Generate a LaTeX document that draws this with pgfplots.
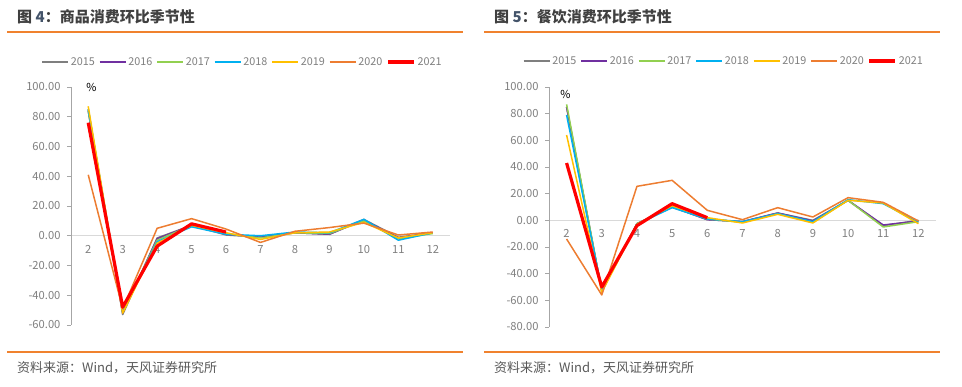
\documentclass[border=0pt]{standalone}
\usepackage{fontspec}
\setmainfont{Noto Sans CJK SC}
\usepackage{pgfplots}
\pgfplotsset{compat=1.18}
\definecolor{c15}{HTML}{7F7F7F}
\definecolor{c16}{HTML}{7030A0}
\definecolor{c17}{HTML}{92D050}
\definecolor{c18}{HTML}{00B0F0}
\definecolor{c19}{HTML}{FFC000}
\definecolor{c20}{HTML}{ED7D31}
\definecolor{c21}{HTML}{FF0000}
\definecolor{rulecol}{HTML}{F0822E}
\definecolor{titlegray}{HTML}{404040}
\definecolor{titleblue}{HTML}{44546A}
\definecolor{tickgray}{HTML}{7F7F7F}
\definecolor{axgray}{HTML}{A6A6A6}
\definecolor{zerogray}{HTML}{D9D9D9}
\definecolor{srcgray}{HTML}{595959}
\pgfplotsset{
  tfchart/.style={
    scale only axis, xmin=1.5, xmax=12.5,
    axis x line=middle, axis y line=left, axis line style={-},
    x axis line style={draw=zerogray, line width=0.9pt},
    y axis line style={draw=axgray, line width=0.8pt},
    hide obscured x ticks=false, hide obscured y ticks=false,
    xtick={2,...,12}, x tick style={draw=none},
    ytick distance=20, y tick style={draw=axgray, line width=0.8pt},
    tick align=outside, major tick length=4pt,
    yticklabel style={xshift=-3pt, /pgf/number format/.cd, fixed, fixed zerofill, precision=2, assume math mode=true},
    xticklabel style={yshift=-2pt, /pgf/number format/assume math mode=true},
    ticklabel style={font=\fontsize{11.2}{12}\selectfont, text=tickgray},
    clip=false,
    legend columns=7,
    legend image code/.code={\draw[#1] (0pt,0pt) -- (26pt,0pt);},
    legend style={draw=none, fill=none, font=\fontsize{10.8}{12}\selectfont, text=tickgray,
      /tikz/every even column/.append style={column sep=2pt},
      /tikz/every odd column/.append style={column sep=0pt}},
    every axis plot/.append style={line width=1.5pt, mark=none, line join=round},
  }
}
\begin{document}
\begin{tikzpicture}
\path[use as bounding box] (0pt,0pt) rectangle (962pt,387pt);
% titles
\node[anchor=west, inner sep=0pt, font=\fontsize{15}{15}\selectfont\bfseries, text=titlegray] at (17pt,370pt) {图 \textcolor{titleblue}{4}：商品消费环比季节性};
\node[anchor=west, inner sep=0pt, font=\fontsize{15}{15}\selectfont\bfseries, text=titlegray] at (494pt,370pt) {图 \textcolor{titleblue}{5}：餐饮消费环比季节性};
\draw[rulecol, line width=1.2pt] (7pt,355pt) -- (463pt,355pt);
\draw[rulecol, line width=1.2pt] (484pt,355pt) -- (940pt,355pt);
\draw[rulecol, line width=1.2pt] (7pt,35pt) -- (463pt,35pt);
\draw[rulecol, line width=1.2pt] (484pt,35pt) -- (940pt,35pt);
\node[anchor=west, inner sep=0pt, font=\fontsize{13}{13}\selectfont, text=srcgray] at (17pt,19pt) {资料来源：Wind，天风证券研究所};
\node[anchor=west, inner sep=0pt, font=\fontsize{13}{13}\selectfont, text=srcgray] at (494pt,19pt) {资料来源：Wind，天风证券研究所};

% left chart
\begin{axis}[tfchart, at={(71pt,62pt)}, anchor=south west, width=379pt, height=238pt, ymin=-60, ymax=100,
  legend style={at={(0.4525,1.105)}, anchor=center}]
\addplot[c15] coordinates {(2,85)(3,-53)(4,-1.5)(5,7)(6,0.5)(7,-1)(8,2)(9,1)(10,11)(11,-1)(12,2)};
\addplot[c16] coordinates {(2,84)(3,-52)(4,-2)(5,7)(6,1)(7,-1)(8,2)(9,1)(10,10.5)(11,-1.5)(12,2)};
\addplot[c17] coordinates {(2,84)(3,-51)(4,-3)(5,7)(6,1.5)(7,-1.5)(8,2)(9,1.5)(10,10)(11,-2)(12,1.5)};
\addplot[c18] coordinates {(2,85)(3,-51)(4,-4)(5,6)(6,1)(7,0)(8,2.5)(9,2)(10,11)(11,-3)(12,2)};
\addplot[c19] coordinates {(2,87)(3,-52)(4,-5)(5,7)(6,2)(7,-2.5)(8,2)(9,2.5)(10,9)(11,-1.5)(12,2)};
\addplot[c20] coordinates {(2,41)(3,-49)(4,5)(5,11.5)(6,4.5)(7,-4.5)(8,3)(9,5.5)(10,8.5)(11,0.5)(12,2.5)};
\addplot[c21, line width=3.2pt] coordinates {(2,76)(3,-48)(4,-7)(5,8)(6,2.5)};
\legend{2015,2016,2017,2018,2019,2020,2021}
\node[font=\fontsize{11}{11}\selectfont, text=black] at (axis cs:2.09,100) {\%};
\end{axis}

% right chart
\begin{axis}[tfchart, at={(549pt,60pt)}, anchor=south west, width=387pt, height=240pt, ymin=-80, ymax=100,
  legend style={at={(0.452,1.108)}, anchor=center}]
\addplot[c15] coordinates {(2,85)(3,-53)(4,-2.5)(5,10)(6,0.5)(7,-1)(8,5.5)(9,0)(10,15)(11,-4)(12,0)};
\addplot[c16] coordinates {(2,85)(3,-53)(4,-2.5)(5,10)(6,0.5)(7,-1)(8,5.5)(9,-0.5)(10,15)(11,-3.5)(12,-0.5)};
\addplot[c17] coordinates {(2,87)(3,-53)(4,-2.5)(5,10)(6,1)(7,-1.5)(8,5)(9,-1.5)(10,15)(11,-5)(12,-1)};
\addplot[c18] coordinates {(2,79)(3,-52)(4,-3)(5,9.5)(6,1)(7,-1)(8,5)(9,-1)(10,15.5)(11,12.5)(12,-1.5)};
\addplot[c19] coordinates {(2,64)(3,-54)(4,-3)(5,11)(6,2)(7,-2)(8,4.5)(9,-2)(10,15)(11,13)(12,-2.5)};
\addplot[c20] coordinates {(2,-14)(3,-56)(4,25.5)(5,30)(6,7.5)(7,0.5)(8,9.5)(9,2.5)(10,17)(11,13.5)(12,-0.5)};
\addplot[c21, line width=3.2pt] coordinates {(2,43)(3,-50)(4,-4)(5,12.5)(6,2)};
\legend{2015,2016,2017,2018,2019,2020,2021}
\node[font=\fontsize{11}{11}\selectfont, text=black] at (axis cs:1.97,94.5) {\%};
\end{axis}
\end{tikzpicture}
\end{document}
